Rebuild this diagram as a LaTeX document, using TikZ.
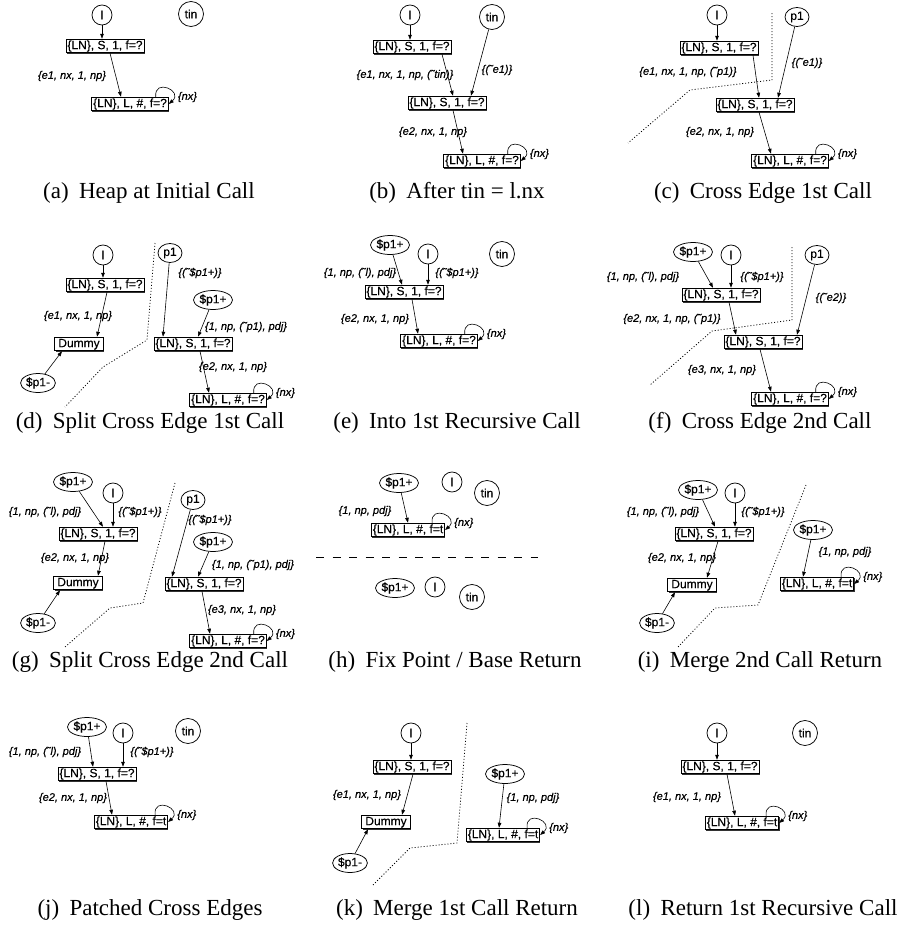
\documentclass[tikz,border=0pt]{standalone}
\usepackage{fontspec}
\setmainfont{Liberation Serif}
\newfontfamily\helv{Liberation Sans}[FakeBold=0.4]
\usetikzlibrary{arrows.meta,shapes.geometric,shadows,calc}

% self loop with its {nx} label on the right of a box
\newcommand\nxloop[1]{%
  \draw[arr] ([xshift=-13pt]#1.north east) .. controls +(-2,-19) and +(15,-13) .. (#1.east);
  \node[lab, anchor=west] (#1nx) at ([xshift=9pt,yshift=7pt]#1.east) {\{nx\}};
}

\begin{document}
\begin{tikzpicture}[x=1pt,y=-1pt,
  box/.style={draw, fill=white, line width=0.8pt, inner xsep=1.5pt, inner ysep=1pt,
    text height=9pt, text depth=2.7pt, font=\helv\fontsize{12}{14}\selectfont,
    general shadow={fill=black!80, shadow xshift=0.8pt, shadow yshift=-0.8pt}},
  dummybox/.style={box, inner xsep=3.5pt},
  var/.style={circle, draw, line width=0.75pt, inner sep=0pt, minimum size=20pt,
    font=\helv\fontsize{12}{14}\selectfont},
  tinnode/.style={var, minimum size=25pt},
  oval/.style={ellipse, draw, line width=0.75pt, inner xsep=0.3pt, inner ysep=0pt,
    minimum height=19pt, minimum width=24pt, font=\helv\fontsize{12}{14}\selectfont},
  lab/.style={font=\helv\itshape\fontsize{11}{13}\selectfont, inner sep=0pt},
  arr/.style={-{Triangle[length=5pt,width=3.6pt]}, line width=0.6pt},
  cut/.style={line width=0.8pt, dash pattern=on 1pt off 2pt},
  split/.style={line width=0.8pt, dash pattern=on 8pt off 8.5pt},
  captext/.style={font=\fontsize{23}{26}\selectfont, inner sep=0pt}
]
\useasboundingbox (0,0) rectangle (905,926);

% ---------------- (a)
\node[var] (al) at (102,15) {l};
\node[tinnode] (atin) at (191,14) {tin};
\node[box] (ab1) at (105,46) {\{LN\}, S, 1, f=?};
\node[box] (ab2) at (130,104) {\{LN\}, L, \#, f=?};
\draw[arr] (al) -- (al |- ab1.north);
\draw[arr] ([xshift=5pt]ab1.south) -- ([xshift=-9pt]ab2.north);
\node[lab] (ae1) at (72,76) {\{e1, nx, 1, np\}};
\nxloop{ab2}
\node[captext] (acap) at (149,193) {(a)\hspace{0.45em}Heap at Initial Call};

% ---------------- (b)
\node[var] (bl) at (410,15) {l};
\node[tinnode] (btin) at (492,17) {tin};
\node[box] (bb1) at (412,47) {\{LN\}, S, 1, f=?};
\node[box] (bb2) at (447,103) {\{LN\}, S, 1, f=?};
\node[box] (bb3) at (482,161) {\{LN\}, L, \#, f=?};
\draw[arr] (bl) -- (bl |- bb1.north);
\draw[arr] ([xshift=30pt]bb1.south) -- ([xshift=6pt]bb2.north);
\draw[arr] (btin) -- ([xshift=24pt]bb2.north);
\draw[arr] ([xshift=6pt]bb2.south) -- ([xshift=-19pt]bb3.north);
\node[lab] (be1) at (405,75) {\{e1, nx, 1, np, (˜tin)\}};
\node[lab] (bte) at (497,70) {\{(˜e1)\}};
\node[lab] (be2) at (433,132) {\{e2, nx, 1, np\}};
\nxloop{bb3}
\node[captext] (bcap) at (457,193) {(b)\hspace{0.45em}After tin = l.nx};

% ---------------- (c)
\node[var] (cl) at (717,15) {l};
\node[oval] (cp1) at (797,17) {p1};
\node[box] (cb1) at (719,48) {\{LN\}, S, 1, f=?};
\node[box] (cb2) at (755,105) {\{LN\}, S, 1, f=?};
\node[box] (cb3) at (790,161) {\{LN\}, L, \#, f=?};
\draw[arr] (cl) -- (cl |- cb1.north);
\draw[arr] ([xshift=34pt]cb1.south) -- ([xshift=4pt]cb2.north);
\draw[arr] (cp1) -- ([xshift=23pt]cb2.north);
\draw[arr] ([xshift=4pt]cb2.south) -- ([xshift=-19pt]cb3.north);
\node[lab] (ce1) at (688,72) {\{e1, nx, 1, np, (˜p1)\}};
\node[lab] (cte) at (807,63) {\{(˜e1)\}};
\node[lab] (ce2) at (720,132) {\{e2, nx, 1, np\}};
\nxloop{cb3}
\draw[cut] (772,13) -- (772,80) -- (690,90) -- (628,143);
\node[captext] (ccap) at (763,193) {(c)\hspace{0.45em}Cross Edge 1st Call};

% ---------------- (d)
\node[var] (dl) at (103,255) {l};
\node[box] (db1) at (105,285) {\{LN\}, S, 1, f=?};
\node[dummybox] (dD) at (79,344) {Dummy};
\node[oval] (dm) at (38,383) {\$p1-};
\node[oval] (dp1) at (170,253) {p1};
\node[oval] (dpp) at (213,300) {\$p1+};
\node[box] (db2) at (193,344) {\{LN\}, S, 1, f=?};
\node[box] (db3) at (228,400) {\{LN\}, L, \#, f=?};
\draw[arr] (dl) -- (dl |- db1.north);
\draw[arr] ([xshift=2pt]db1.south) -- ([xshift=18pt]dD.north);
\draw[arr] (dm) -- ([xshift=-17pt]dD.south);
\draw[arr] (dp1) -- ([xshift=-30pt]db2.north);
\draw[arr] (dpp) -- ([xshift=5pt]db2.north);
\draw[arr] ([xshift=7pt]db2.south) -- ([xshift=-19pt]db3.north);
\node[lab] (de1) at (78,316) {\{e1, nx, 1, np\}};
\node[lab] (dtp) at (200,273) {\{(˜\$p1+)\}};
\node[lab] (dpd) at (246,327) {\{1, np, (˜p1), pdj\}};
\node[lab] (de2) at (233,367) {\{e2, nx, 1, np\}};
\nxloop{db3}
\draw[cut] (155,243) -- (147,340) -- (103,367) -- (65,407);
\node[captext] (dcap) at (150,423) {(d)\hspace{0.45em}Split Cross Edge 1st Call};

% ---------------- (e)
\node[oval] (epp) at (390,245) {\$p1+};
\node[var] (el) at (428,254) {l};
\node[tinnode] (etin) at (502,254) {tin};
\node[box] (eb1) at (404,292) {\{LN\}, S, 1, f=?};
\node[box] (eb2) at (439,341) {\{LN\}, L, \#, f=?};
\draw[arr] (epp) -- ([xshift=-2pt]eb1.north);
\draw[arr] (el) -- (el |- eb1.north);
\draw[arr] ([xshift=8pt]eb1.south) -- ([xshift=-21pt]eb2.north);
\node[lab] (epd) at (360,273) {\{1, np, (˜l), pdj\}};
\node[lab] (etp) at (457,273) {\{(˜\$p1+)\}};
\node[lab] (ee2) at (375,319) {\{e2, nx, 1, np\}};
\nxloop{eb2}
\node[captext] (ecap) at (457,423) {(e)\hspace{0.45em}Into 1st Recursive Call};

% ---------------- (f)
\node[oval] (fpp) at (693,252) {\$p1+};
\node[var] (fl) at (731,255) {l};
\node[oval] (fp1) at (817,255) {p1};
\node[box] (fb1) at (721,295) {\{LN\}, S, 1, f=?};
\node[box] (fb2) at (763,342) {\{LN\}, S, 1, f=?};
\node[box] (fb3) at (790,399) {\{LN\}, L, \#, f=?};
\draw[arr] (fpp) -- ([xshift=-8pt]fb1.north);
\draw[arr] (fl) -- (fl |- fb1.north);
\draw[arr] ([xshift=8pt]fb1.south) -- ([xshift=-27pt]fb2.north);
\draw[arr] (fp1) -- ([xshift=34pt]fb2.north);
\draw[arr] ([xshift=-3pt]fb2.south) -- ([xshift=-19pt]fb3.north);
\node[lab] (fpd) at (643,277) {\{1, np, (˜l), pdj\}};
\node[lab] (ftp) at (762,277) {\{(˜\$p1+)\}};
\node[lab] (fe2) at (672,319) {\{e2, nx, 1, np, (˜p1)\}};
\node[lab] (fte) at (831,298) {\{(˜e2)\}};
\node[lab] (fe3) at (722,370) {\{e3, nx, 1, np\}};
\nxloop{fb3}
\draw[cut] (792,247) -- (792,320) -- (712,331) -- (650,385);
\node[captext] (fcap) at (760,423) {(f)\hspace{0.45em}Cross Edge 2nd Call};

% ---------------- (g)
\node[oval] (gpp) at (73,482) {\$p1+};
\node[var] (gl) at (113,493) {l};
\node[box] (gb1) at (98,534) {\{LN\}, S, 1, f=?};
\node[dummybox] (gD) at (78,583) {Dummy};
\node[oval] (gm) at (38,623) {\$p1-};
\node[oval] (gp1) at (193,500) {p1};
\node[oval] (gpq) at (213,542) {\$p1+};
\node[box] (gb2) at (204,584) {\{LN\}, S, 1, f=?};
\node[box] (gb3) at (228,641) {\{LN\}, L, \#, f=?};
\draw[arr] (gpp) -- ([xshift=5pt]gb1.north);
\draw[arr] (gl) -- (gl |- gb1.north);
\draw[arr] ([xshift=7pt]gb1.south) -- ([xshift=20pt]gD.north);
\draw[arr] (gm) -- ([xshift=-18pt]gD.south);
\draw[arr] (gp1) -- ([xshift=-32pt]gb2.north);
\draw[arr] (gpq) -- ([xshift=-6pt]gb2.north);
\draw[arr] ([xshift=-2pt]gb2.south) -- ([xshift=-18pt]gb3.north);
\node[lab] (gpd) at (45,512) {\{1, np, (˜l), pdj\}};
\node[lab] (gtp) at (140,512) {\{(˜\$p1+)\}};
\node[lab] (ge2) at (75,558) {\{e2, nx, 1, np\}};
\node[lab] (gtq) at (210,520) {\{(˜\$p1+)\}};
\node[lab] (gpe) at (253,565) {\{1, np, (˜p1), pdj\}};
\node[lab] (ge3) at (242,610) {\{e3, nx, 1, np\}};
\nxloop{gb3}
\draw[cut] (175,483) -- (143,603) -- (110,608) -- (65,647);
\node[captext] (gcap) at (150,662) {(g)\hspace{0.45em}Split Cross Edge 2nd Call};

% ---------------- (h)
\node[oval] (hpp) at (399,483) {\$p1+};
\node[var] (hl) at (452,482) {l};
\node[tinnode] (htin) at (487,493) {tin};
\node[box] (hb) at (408,530) {\{LN\}, L, \#, f=t};
\draw[arr] (hpp) -- (hb.north);
\node[lab] (hpd) at (365,511) {\{1, np, pdj\}};
\nxloop{hb}
\coordinate (hs) at (316,557);
\coordinate (ht) at (538,557);
\draw[split] (hs) -- (ht);
\node[oval] (hpq) at (395,588) {\$p1+};
\node[var] (hm) at (435,587) {l};
\node[tinnode] (hun) at (472,597) {tin};
\node[captext] (hcap) at (455,662) {(h)\hspace{0.45em}Fix Point / Base Return};

% ---------------- (i)
\node[oval] (ipp) at (698,490) {\$p1+};
\node[var] (il) at (735,493) {l};
\node[box] (ib1) at (714,534) {\{LN\}, S, 1, f=?};
\node[dummybox] (iD) at (692,585) {Dummy};
\node[oval] (im) at (657,623) {\$p1-};
\node[oval] (ipq) at (813,530) {\$p1+};
\node[box] (ib2) at (817,584) {\{LN\}, L, \#, f=t};
\draw[arr] (ipp) -- ([xshift=1pt]ib1.north);
\draw[arr] (il) -- (il |- ib1.north);
\draw[arr] ([xshift=4pt]ib1.south) -- ([xshift=15pt]iD.north);
\draw[arr] (im) -- ([xshift=-17pt]iD.south);
\draw[arr] (ipq) -- ([xshift=-14pt]ib2.north);
\node[lab] (ipd) at (663,512) {\{1, np, (˜l), pdj\}};
\node[lab] (itp) at (763,512) {\{(˜\$p1+)\}};
\node[lab] (ie2) at (682,558) {\{e2, nx, 1, np\}};
\node[lab] (ipe) at (845,552) {\{1, np, pdj\}};
\nxloop{ib2}
\draw[cut] (806,485) -- (758,605) -- (715,608) -- (678,647);
\node[captext] (icap) at (760,662) {(i)\hspace{0.45em}Merge 2nd Call Return};

% ---------------- (j)
\node[oval] (jpp) at (87,727) {\$p1+};
\node[var] (jl) at (123,733) {l};
\node[tinnode] (jtin) at (188,731) {tin};
\node[box] (jb1) at (97,774) {\{LN\}, S, 1, f=?};
\node[box] (jb2) at (131,822) {\{LN\}, L, \#, f=t};
\draw[arr] (jpp) -- ([xshift=-4pt]jb1.north);
\draw[arr] (jl) -- (jl |- jb1.north);
\draw[arr] ([xshift=9pt]jb1.south) -- ([xshift=-19pt]jb2.north);
\node[lab] (jpd) at (45,752) {\{1, np, (˜l), pdj\}};
\node[lab] (jtp) at (152,752) {\{(˜\$p1+)\}};
\node[lab] (je2) at (73,798) {\{e2, nx, 1, np\}};
\nxloop{jb2}
\node[captext] (jcap) at (150,910) {(j)\hspace{0.45em}Patched Cross Edges};

% ---------------- (k)
\node[var] (kl) at (411,733) {l};
\node[box] (kb1) at (412,767) {\{LN\}, S, 1, f=?};
\node[dummybox] (kD) at (386,822) {Dummy};
\node[oval] (km) at (350,863) {\$p1-};
\node[oval] (kpp) at (505,774) {\$p1+};
\node[box] (kb2) at (503,835) {\{LN\}, L, \#, f=t};
\draw[arr] (kl) -- (kl |- kb1.north);
\draw[arr] ([xshift=1pt]kb1.south) -- ([xshift=16pt]kD.north);
\draw[arr] (km) -- ([xshift=-18pt]kD.south);
\draw[arr] (kpp) -- ([xshift=-4pt]kb2.north);
\node[lab] (ke1) at (367,795) {\{e1, nx, 1, np\}};
\node[lab] (kpd) at (533,798) {\{1, np, pdj\}};
\nxloop{kb2}
\draw[cut] (467,723) -- (457,843) -- (410,848) -- (373,885);
\node[captext] (kcap) at (457,910) {(k)\hspace{0.45em}Merge 1st Call Return};

% ---------------- (l)
\node[var] (ll) at (717,733) {l};
\node[tinnode] (ltin) at (805,733) {tin};
\node[box] (lb1) at (720,767) {\{LN\}, S, 1, f=?};
\node[box] (lb2) at (742,823) {\{LN\}, L, \#, f=t};
\draw[arr] (ll) -- (ll |- lb1.north);
\draw[arr] ([xshift=7pt]lb1.south) -- ([xshift=-7pt]lb2.north);
\node[lab] (le1) at (687,797) {\{e1, nx, 1, np\}};
\nxloop{lb2}
\node[captext] (lcap) at (763,910) {(l)\hspace{0.45em}Return 1st Recursive Call};

\end{tikzpicture}
\end{document}
